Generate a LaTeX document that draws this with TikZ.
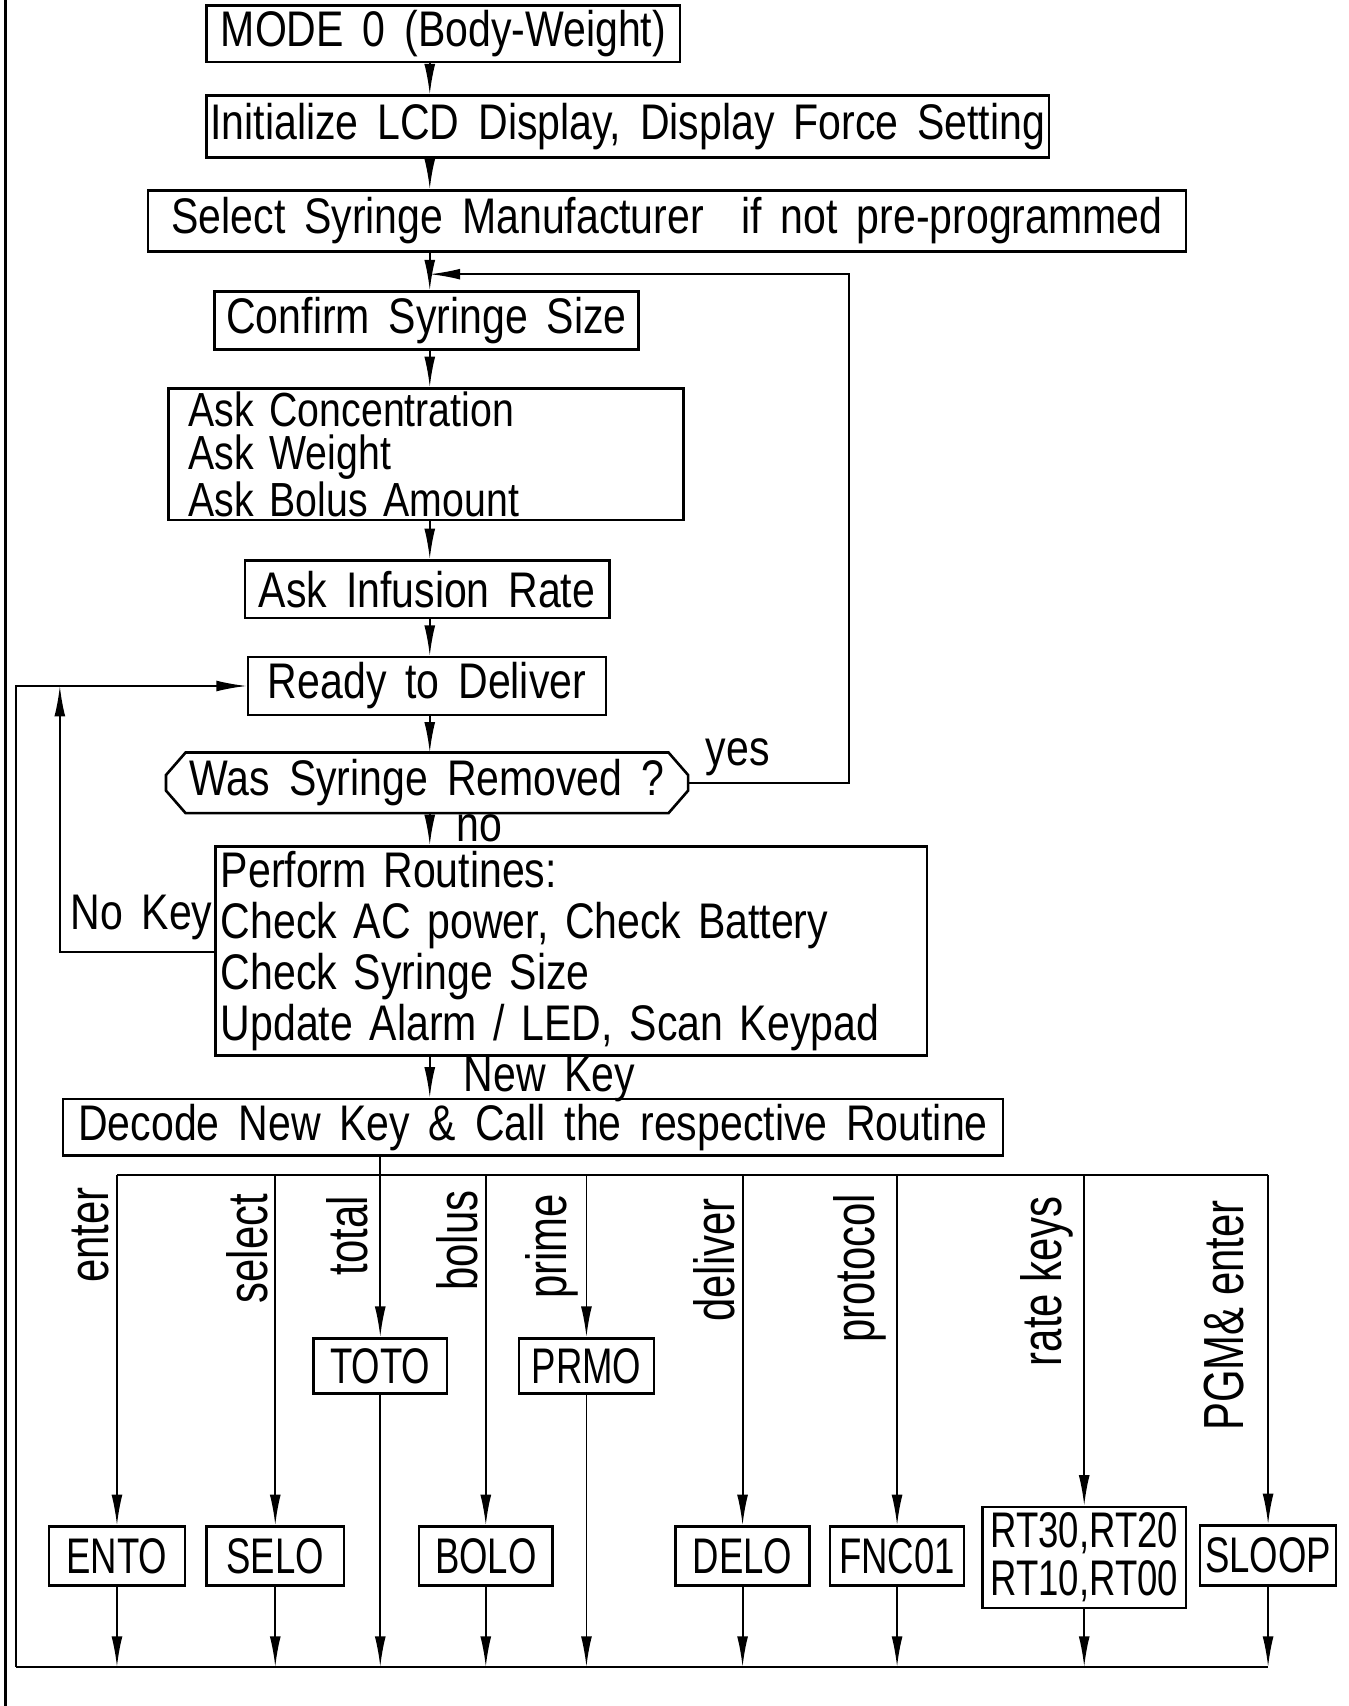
\documentclass[tikz,border=0pt]{standalone}
\usepackage{fontspec}
\setmainfont{Liberation Sans}
\newfontfamily\cad{Liberation Sans}[FakeStretch=0.82,WordSpace=1.65]
\newfontfamily\cadn{Liberation Sans}[FakeStretch=0.73]
\newfontfamily\lbl{Liberation Sans}[FakeStretch=0.74]
\usetikzlibrary{arrows.meta}
\begin{document}
\begin{tikzpicture}[x=0.5pt,y=-0.5pt,
  box/.style={draw,line width=1.2pt,inner sep=1pt,font=\cad\fontsize{23pt}{23pt}\selectfont},
  rbox/.style={box,font=\cadn\fontsize{23pt}{22pt}\selectfont},
  outline/.style={line width=1.2pt},
  conn/.style={line width=0.85pt},
  arr/.style={conn,-{Latex[length=14pt,width=5pt]}},
  txt/.style={inner sep=0pt,font=\cad\fontsize{23pt}{23pt}\selectfont},
  keylbl/.style={rotate=90,anchor=base east,inner sep=0pt,font=\lbl\fontsize{26pt}{26pt}\selectfont}]
\useasboundingbox (0,0) rectangle (1239,1568);

% frame line at left
\coordinate (ft) at (5,0);
\coordinate (fb) at (5,1568);
\draw[line width=1.4pt] (ft) -- (fb);

% main column
\node[box,minimum width=217.5pt,minimum height=26pt] (mode) at (407.5,31) {MODE 0 (Body-Weight)};
\node[box,minimum width=387pt,minimum height=28.5pt] (init) at (577,116.5) {Initialize LCD Display, Display Force Setting};
\node[box,minimum width=477pt,minimum height=28pt] (select) at (613,203) {Select Syringe Manufacturer\ \ if not pre-programmed};
\node[box,minimum width=195pt,minimum height=26.5pt] (confirm) at (392,294.5) {Confirm Syringe Size};
\node[box,minimum width=236.5pt,minimum height=60.5pt,text width=218.5pt,align=left,inner xsep=9pt,inner ysep=0pt,
      font=\cad\fontsize{22pt}{20pt}\selectfont] (ask) at (391.5,417.5) {Ask Concentration\\Ask Weight\\Ask Bolus Amount};
\node[box,minimum width=167.5pt,minimum height=26.5pt] (rate) at (392.5,541.5) {Ask Infusion Rate};
\node[box,minimum width=164.5pt,minimum height=26.5pt] (ready) at (392.5,630.5) {Ready to Deliver};
\node[txt,minimum width=239.5pt,minimum height=27.5pt] (hex) at (392.5,719.5) {Was Syringe Removed ?};
\draw[outline] ([xshift=9pt]hex.north west) -- ([xshift=-9pt]hex.north east) -- ([yshift=3.6pt]hex.east)
  -- ([yshift=-3.6pt]hex.east) -- ([xshift=-9pt]hex.south east) -- ([xshift=9pt]hex.south west)
  -- ([yshift=-3.6pt]hex.west) -- ([yshift=3.6pt]hex.west) -- cycle;
\node[box,minimum width=327pt,minimum height=96pt,text width=322pt,align=left,inner xsep=2.5pt,
      font=\cad\fontsize{23pt}{23.5pt}\selectfont] (perform) at (525,874)
  {Perform Routines:\\Check AC power, Check Battery\\Check Syringe Size\\Update Alarm / LED, Scan Keypad};
\node[box,minimum width=432pt,minimum height=26pt] (decode) at (490,1036) {Decode New Key \& Call the respective Routine};

% routine boxes
\node[rbox,minimum width=61.5pt,minimum height=25.5pt] (toto) at (349.5,1255.5) {TOTO};
\node[rbox,minimum width=62pt,minimum height=25.5pt] (prmo) at (539,1255.5) {PRMO};
\node[rbox,minimum width=62.5pt,minimum height=27pt] (ento) at (107.5,1430) {ENTO};
\node[rbox,minimum width=63pt,minimum height=27pt] (selo) at (253,1430) {SELO};
\node[rbox,minimum width=61.5pt,minimum height=27pt] (bolo) at (446.5,1430) {BOLO};
\node[rbox,minimum width=61.5pt,minimum height=27pt] (delo) at (682.5,1430) {DELO};
\node[rbox,minimum width=61.5pt,minimum height=27pt] (fnc) at (824.5,1430) {FNC01};
\node[rbox,minimum width=93.5pt,minimum height=46.5pt,align=center] (rt) at (996.5,1431.5) {RT30,RT20\\RT10,RT00};
\node[rbox,minimum width=62.5pt,minimum height=27.5pt] (sloop) at (1165.5,1429.5) {SLOOP};

% spine connectors
\coordinate (sp) at (395,0);
\foreach \a/\b in {mode/init,init/select,select/confirm,confirm/ask,ask/rate,rate/ready,ready/hex,hex/perform,perform/decode}
  \draw[arr] (\a.south -| sp) -- (\b.north -| sp);

% yes loop
\coordinate (yc) at (780,252);
\draw[arr] (hex.east) -| (yc) -- (yc -| sp);
\node[txt] (yes) at (678,696) {yes};
\node[txt,anchor=base] (no) at (441,773) {no};
\node[txt] (newkey) at (505,992) {New Key};
\node[txt] (nokey) at (130,843) {No Key};

% no key loop
\coordinate (nk) at (55,875);
\draw[arr] (perform.west |- nk) -- (nk) -- (nk |- ready.west);

% return loop
\coordinate (ll) at (15,1532);
\draw[arr] (ll) |- (ready.west);
\draw[conn] (ll) -- (sloop.south |- ll);

% key bus
\coordinate (bus) at (0,1080);
\draw[conn] (ento.north |- bus) -- (sloop.north |- bus);
\draw[arr] (decode.south -| toto.north) -- (toto.north);
\foreach \b in {ento,selo,bolo,prmo,delo,fnc,rt,sloop}
  \draw[arr] (\b.north |- bus) -- (\b.north);
\foreach \b in {ento,selo,toto,bolo,prmo,delo,fnc,rt,sloop}
  \draw[arr] (\b.south) -- (\b.south |- ll);

% key labels
\node[keylbl] (lenter) at (100,1091) {enter};
\node[keylbl] (lselect) at (245.5,1097) {select};
\node[keylbl] (ltotal) at (337.5,1099) {total};
\node[keylbl] (lbolus) at (438.5,1094) {bolus};
\node[keylbl] (lprime) at (521,1097) {prime};
\node[keylbl] (ldeliver) at (675,1101) {deliver};
\node[keylbl] (lprotocol) at (804,1097) {protocol};
\node[keylbl] (lrate) at (976,1099) {rate keys};
\node[keylbl] (lpgm) at (1143,1103) {PGM\& enter};
\end{tikzpicture}
\end{document}
